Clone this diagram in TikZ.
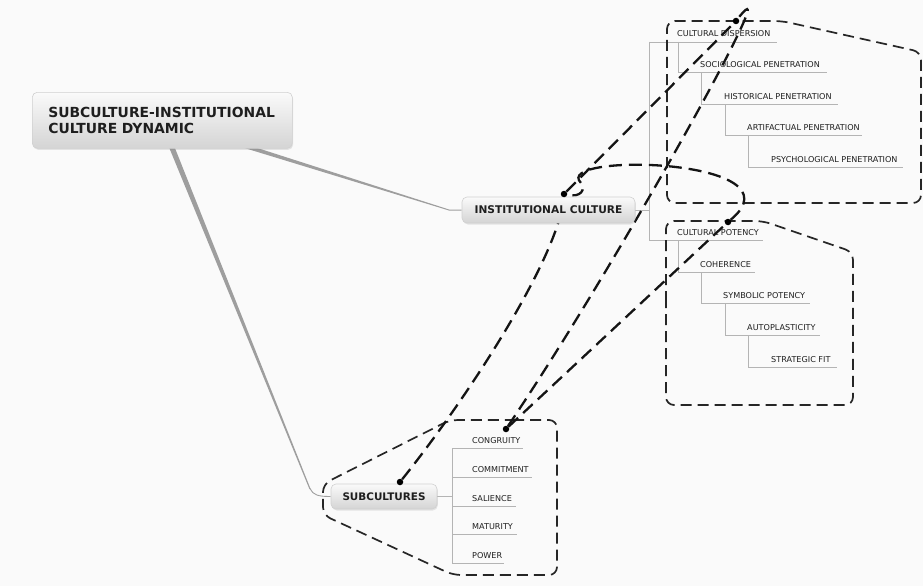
\documentclass[tikz,border=0pt]{standalone}
\usepackage{fontspec}
\setmainfont{DejaVu Sans}
\usetikzlibrary{shadows}
\definecolor{bgc}{RGB}{250,250,250}
\definecolor{tree}{RGB}{180,180,180}
\definecolor{branch}{RGB}{158,158,158}
\definecolor{txt}{RGB}{30,30,30}
\definecolor{boxtop}{RGB}{250,250,250}
\definecolor{boxbot}{RGB}{212,212,212}
\definecolor{boxline}{RGB}{208,208,208}
\pgfdeclarelayer{bg}
\pgfdeclarelayer{back}
\pgfsetlayers{bg,back,main}
\tikzset{
 topicbox/.style={draw=boxline, line width=0.6pt, rounded corners=5pt, top color=boxtop, bottom color=boxbot,
   drop shadow={opacity=0.18, shadow xshift=0.8pt, shadow yshift=-1.5pt}, text=txt, inner sep=0pt},
 lbl/.style={font=\fontsize{8.1}{9}\selectfont, text=txt, inner sep=0pt, anchor=base west},
 treeline/.style={draw=tree, line width=0.8pt},
 rel/.style={draw=black!92, line width=2.3pt, dash pattern=on 13pt off 7pt},
 bound/.style={draw=black!85, line width=1.7pt, dash pattern=on 11pt off 6pt, rounded corners=8pt},
 dotmark/.style={circle, fill=black, inner sep=0pt, minimum size=6.5pt},
}
\begin{document}
\begin{tikzpicture}[x=1pt,y=-1pt]
\begin{pgfonlayer}{bg}
\fill[bgc] (0,0) rectangle (923,586);
\end{pgfonlayer}
\useasboundingbox (0,0) rectangle (923,586);

% main topics
\node[topicbox, minimum width=260pt, minimum height=56pt, anchor=north west,
      font=\fontsize{13.9}{16}\selectfont\bfseries, align=left, text width=228pt] (central) at (32,92)
      {SUBCULTURE-INSTITUTIONAL\\CULTURE DYNAMIC};
\node[topicbox, minimum width=173pt, minimum height=26pt, font=\fontsize{10.6}{12}\selectfont\bfseries] (ic) at (548.5,210) {INSTITUTIONAL CULTURE};
\node[topicbox, minimum width=106pt, minimum height=25pt, font=\fontsize{10.4}{12}\selectfont\bfseries] (sub) at (384,496.5) {SUBCULTURES};

% labels
\node[lbl] (cd) at (677,37) {CULTURAL DISPERSION};
\node[lbl] (sp) at (700,67) {SOCIOLOGICAL PENETRATION};
\node[lbl] (hp) at (724,99) {HISTORICAL PENETRATION};
\node[lbl] (ap) at (747,130) {ARTIFACTUAL PENETRATION};
\node[lbl] (pp) at (771,162) {PSYCHOLOGICAL PENETRATION};
\node[lbl] (cp) at (677,235) {CULTURAL POTENCY};
\node[lbl] (coh) at (700,267) {COHERENCE};
\node[lbl] (symp) at (723,298) {SYMBOLIC POTENCY};
\node[lbl] (auto) at (747,330) {AUTOPLASTICITY};
\node[lbl] (sfit) at (771,362) {STRATEGIC FIT};
\node[lbl] (cong) at (472,443) {CONGRUITY};
\node[lbl] (comm) at (472,472) {COMMITMENT};
\node[lbl] (sal) at (472,501) {SALIENCE};
\node[lbl] (mat) at (472,529) {MATURITY};
\node[lbl] (pow) at (472,558) {POWER};

% relationship end dots
\node[dotmark] (dsub) at (400,482) {};
\node[dotmark] (dic) at (564,194) {};
\node[dotmark] (dcong) at (506,429) {};
\node[dotmark] (dcp) at (728,222) {};
\node[dotmark] (dcd) at (736,21) {};

\begin{pgfonlayer}{back}
% branches from central topic
\fill[branch] (200,129.6) -- (449,209.5) -- (ic.west |- 0,209.5) -- (ic.west |- 0,210.5) -- (449,210.5) -- (200,134.4) -- cycle;
\fill[branch] (157,118) -- (163,118) -- (310.6,489) -- (309.4,489) -- cycle;
\draw[branch, line width=0.9pt] (310,488.5) .. controls (313,495) and (318,496.5) .. (sub.west);

% institutional culture tree
\draw[treeline] (ic.east) -- (649,210);
\draw[treeline] (649,42) -- (649,240);
\draw[treeline] (649,42) -- (777,42);
\draw[treeline] (678,42) -- (678,72) -- (827,72);
\draw[treeline] (701,72) -- (701,104) -- (838,104);
\draw[treeline] (725,104) -- (725,135) -- (862,135);
\draw[treeline] (748,135) -- (748,167) -- (903,167);
\draw[treeline] (649,240) -- (763,240);
\draw[treeline] (678,240) -- (678,272) -- (755,272);
\draw[treeline] (701,272) -- (701,303) -- (810,303);
\draw[treeline] (725,303) -- (725,335) -- (820,335);
\draw[treeline] (748,335) -- (748,367) -- (837,367);

% subcultures tree
\draw[treeline] (sub.east) -- (452,496.5);
\draw[treeline] (452,448) -- (452,563);
\draw[treeline] (452,448) -- (523,448);
\draw[treeline] (452,477) -- (532,477);
\draw[treeline] (452,506) -- (516,506);
\draw[treeline] (452,534) -- (517,534);
\draw[treeline] (452,563) -- (504,563);

% boundaries
\draw[bound] (667,110) -- (667,21) -- (782,21) -- (921,52) -- (921,203) -- (667,203) -- cycle;
\draw[bound] (666,310) -- (666,221) -- (763,221) -- (853,252) -- (853,405) -- (666,405) -- cycle;
\draw[bound] (505,420) -- (557,420) -- (557,575) -- (453,575) -- (323,515) -- (323,484) -- (450,420) -- cycle;

% relationships
\draw[rel] (dsub) .. controls (472,392) and (559,255) .. (dic);
\draw[rel] (dic) -- (dcd);
\draw[rel] (dcong) .. controls (620,260) and (790,-48) .. (dcd);
\draw[rel] (dcong) -- (dcp);
\draw[rel] (dcp) .. controls (805,158) and (550,152) .. (581,183) .. controls (586,189) and (581,198) .. (dic);
\end{pgfonlayer}
\end{tikzpicture}
\end{document}
